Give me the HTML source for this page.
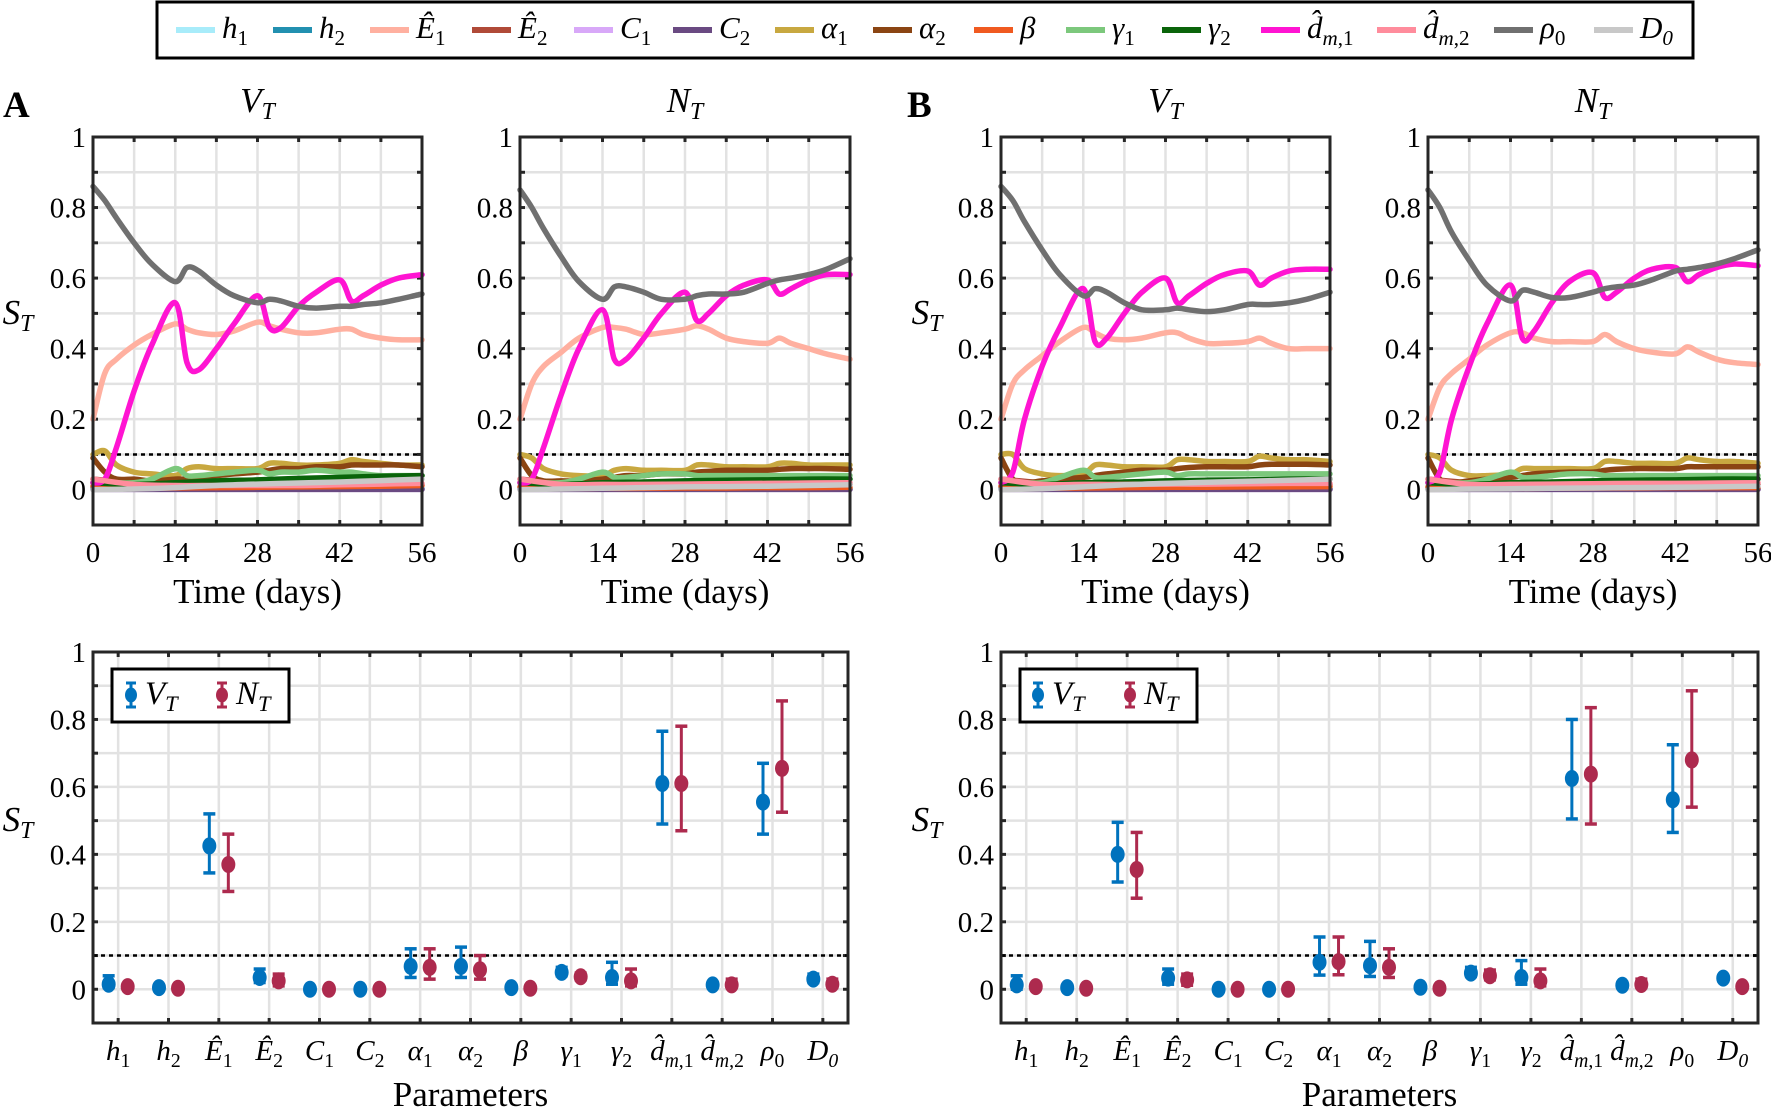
<!DOCTYPE html>
<html><head><meta charset="utf-8"><style>
html,body{margin:0;padding:0;background:#fff;}
svg{display:block;}
svg text{font-family:"Liberation Serif","Times New Roman",serif;}
</style></head><body>
<svg id="fig" xmlns="http://www.w3.org/2000/svg" width="1771" height="1116" viewBox="0 0 1771 1116" font-family="Liberation Serif, serif"></svg>
<script>
// ---------- DATA ----------
const tMain = [0,2,4,7,10,14,16,18,21,24,28,30,32,35,38,42,44,46,49,52,56];
const tMinor = [0,7,14,21,28,35,42,49,56];
const seriesNames = ['h1','h2','E1','E2','C1','C2','alpha1','alpha2','beta','gamma1','gamma2','dm1','dm2','rho0','D0'];
// A - V_T
const A_VT_rho0 = [0.86,0.82,0.77,0.70,0.64,0.59,0.63,0.62,0.58,0.55,0.53,0.54,0.535,0.52,0.515,0.52,0.52,0.525,0.53,0.54,0.555];
const A_VT_dm1 = [0.02,0.03,0.12,0.28,0.41,0.53,0.36,0.34,0.40,0.47,0.55,0.46,0.46,0.52,0.56,0.595,0.535,0.55,0.58,0.60,0.61];
const A_VT_E1 = [0.2,0.33,0.37,0.41,0.44,0.47,0.455,0.445,0.44,0.45,0.475,0.465,0.455,0.445,0.445,0.455,0.455,0.44,0.43,0.425,0.425];
const A_VT_alpha1 = [0.1,0.11,0.07,0.05,0.045,0.04,0.06,0.065,0.06,0.06,0.06,0.075,0.075,0.07,0.07,0.075,0.085,0.08,0.075,0.07,0.07];
const A_VT_alpha2 = [0.09,0.05,0.03,0.03,0.025,0.03,0.03,0.035,0.04,0.045,0.05,0.055,0.06,0.06,0.065,0.065,0.07,0.07,0.07,0.07,0.065];
const A_VT_gamma1 = [0.02,0.02,0.02,0.02,0.03,0.06,0.04,0.04,0.045,0.05,0.055,0.045,0.05,0.05,0.055,0.05,0.05,0.045,0.04,0.04,0.04];
const A_VT_minor = {h1:[0.01,0.005,0.003,0.003,0.003,0.003,0.003,0.003,0.003],h2:[0.005,0.004,0.003,0.003,0.003,0.003,0.003,0.003,0.003],E2:[0.03,0.02,0.015,0.015,0.015,0.015,0.015,0.015,0.015],C1:[0.001,0.001,0.001,0.001,0.001,0.001,0.001,0.001,0.001],C2:[0.001,0.001,0.001,0.001,0.001,0.001,0.001,0.001,0.001],beta:[0.01,0.005,0.005,0.006,0.007,0.008,0.009,0.01,0.012],gamma2:[0.02,0.015,0.02,0.025,0.028,0.032,0.035,0.038,0.04],dm2:[0.03,0.015,0.012,0.012,0.012,0.012,0.014,0.016,0.018],D0:[0,0.002,0.006,0.012,0.016,0.019,0.022,0.026,0.03]};
// A - N_T
const A_NT_rho0 = [0.85,0.80,0.74,0.66,0.59,0.54,0.575,0.575,0.56,0.54,0.54,0.55,0.555,0.555,0.56,0.585,0.595,0.6,0.61,0.625,0.655];
const A_NT_dm1 = [0.02,0.03,0.12,0.27,0.40,0.51,0.37,0.37,0.43,0.50,0.56,0.48,0.50,0.55,0.58,0.595,0.555,0.57,0.595,0.61,0.61];
const A_NT_E1 = [0.2,0.30,0.35,0.39,0.43,0.46,0.46,0.455,0.44,0.445,0.455,0.465,0.455,0.43,0.42,0.415,0.43,0.415,0.40,0.385,0.37];
const A_NT_alpha1 = [0.1,0.09,0.06,0.045,0.04,0.04,0.055,0.06,0.055,0.055,0.055,0.07,0.07,0.065,0.065,0.065,0.075,0.075,0.07,0.07,0.07];
const A_NT_alpha2 = [0.09,0.04,0.025,0.025,0.025,0.03,0.035,0.04,0.04,0.045,0.045,0.05,0.052,0.055,0.055,0.055,0.058,0.06,0.06,0.06,0.058];
const A_NT_gamma1 = [0.02,0.02,0.02,0.02,0.03,0.05,0.035,0.035,0.04,0.045,0.045,0.04,0.04,0.04,0.04,0.04,0.04,0.04,0.04,0.04,0.04];
const A_NT_minor = {h1:[0.01,0.004,0.003,0.003,0.003,0.003,0.003,0.003,0.003],h2:[0.005,0.003,0.003,0.003,0.003,0.003,0.003,0.003,0.003],E2:[0.03,0.02,0.015,0.015,0.015,0.015,0.015,0.015,0.015],C1:[0.001,0.001,0.001,0.001,0.001,0.001,0.001,0.001,0.001],C2:[0.001,0.001,0.001,0.001,0.001,0.001,0.001,0.001,0.001],beta:[0.008,0.004,0.004,0.004,0.005,0.005,0.006,0.006,0.007],gamma2:[0.02,0.015,0.02,0.022,0.025,0.027,0.028,0.03,0.03],dm2:[0.03,0.015,0.015,0.015,0.016,0.017,0.018,0.019,0.02],D0:[0,0.002,0.004,0.006,0.008,0.009,0.01,0.012,0.014]};
// B - V_T
const B_VT_rho0 = [0.86,0.82,0.76,0.68,0.61,0.55,0.57,0.56,0.53,0.51,0.51,0.515,0.51,0.505,0.51,0.525,0.525,0.525,0.53,0.54,0.56];
const B_VT_dm1 = [0.02,0.05,0.20,0.35,0.46,0.57,0.42,0.43,0.50,0.56,0.60,0.53,0.55,0.585,0.61,0.62,0.58,0.60,0.62,0.625,0.625];
const B_VT_E1 = [0.2,0.30,0.34,0.38,0.42,0.46,0.445,0.43,0.425,0.43,0.445,0.445,0.43,0.415,0.415,0.42,0.43,0.415,0.40,0.40,0.40];
const B_VT_alpha1 = [0.1,0.1,0.06,0.045,0.04,0.045,0.07,0.07,0.065,0.065,0.065,0.085,0.085,0.08,0.08,0.08,0.095,0.09,0.085,0.085,0.08];
const B_VT_alpha2 = [0.09,0.03,0.02,0.025,0.03,0.035,0.04,0.045,0.05,0.055,0.055,0.06,0.063,0.065,0.065,0.065,0.07,0.072,0.072,0.072,0.07];
const B_VT_gamma1 = [0.02,0.02,0.02,0.02,0.035,0.055,0.035,0.035,0.04,0.045,0.05,0.04,0.045,0.045,0.045,0.045,0.045,0.045,0.045,0.045,0.045];
const B_VT_minor = {h1:[0.01,0.005,0.003,0.003,0.003,0.003,0.003,0.003,0.003],h2:[0.005,0.004,0.003,0.003,0.003,0.003,0.003,0.003,0.003],E2:[0.03,0.02,0.015,0.015,0.015,0.015,0.015,0.015,0.015],C1:[0.001,0.001,0.001,0.001,0.001,0.001,0.001,0.001,0.001],C2:[0.001,0.001,0.001,0.001,0.001,0.001,0.001,0.001,0.001],beta:[0.01,0.005,0.005,0.006,0.007,0.007,0.008,0.008,0.009],gamma2:[0.02,0.015,0.02,0.022,0.025,0.027,0.028,0.03,0.03],dm2:[0.03,0.015,0.015,0.015,0.016,0.016,0.017,0.018,0.018],D0:[0,0.003,0.008,0.014,0.018,0.021,0.024,0.027,0.03]};
// B - N_T
const B_NT_rho0 = [0.85,0.80,0.73,0.65,0.58,0.535,0.565,0.56,0.545,0.545,0.56,0.57,0.575,0.58,0.595,0.62,0.625,0.63,0.64,0.655,0.68];
const B_NT_dm1 = [0.02,0.05,0.20,0.35,0.47,0.58,0.43,0.45,0.53,0.59,0.615,0.545,0.56,0.60,0.625,0.63,0.59,0.61,0.63,0.64,0.635];
const B_NT_E1 = [0.2,0.29,0.33,0.37,0.41,0.445,0.445,0.43,0.42,0.42,0.42,0.44,0.42,0.40,0.39,0.385,0.405,0.39,0.37,0.36,0.355];
const B_NT_alpha1 = [0.1,0.09,0.055,0.04,0.04,0.045,0.06,0.06,0.06,0.06,0.06,0.08,0.08,0.075,0.075,0.075,0.09,0.085,0.08,0.08,0.075];
const B_NT_alpha2 = [0.09,0.03,0.02,0.025,0.03,0.035,0.04,0.045,0.048,0.05,0.05,0.055,0.058,0.06,0.06,0.06,0.065,0.065,0.065,0.065,0.065];
const B_NT_gamma1 = [0.02,0.02,0.02,0.02,0.03,0.05,0.035,0.035,0.04,0.045,0.045,0.04,0.04,0.04,0.04,0.04,0.04,0.04,0.04,0.04,0.04];
const B_NT_minor = {h1:[0.01,0.004,0.003,0.003,0.003,0.003,0.003,0.003,0.003],h2:[0.005,0.003,0.003,0.003,0.003,0.003,0.003,0.003,0.003],E2:[0.03,0.02,0.015,0.015,0.015,0.015,0.015,0.015,0.015],C1:[0.001,0.001,0.001,0.001,0.001,0.001,0.001,0.001,0.001],C2:[0.001,0.001,0.001,0.001,0.001,0.001,0.001,0.001,0.001],beta:[0.008,0.004,0.004,0.004,0.005,0.005,0.006,0.006,0.006],gamma2:[0.02,0.015,0.02,0.022,0.025,0.027,0.028,0.03,0.03],dm2:[0.03,0.015,0.015,0.016,0.017,0.018,0.018,0.019,0.02],D0:[0,0.002,0.003,0.004,0.005,0.006,0.007,0.008,0.01]};
// Bottom error-bar data
const A_VT_mean = [0.015,0.005,0.425,0.035,0,0,0.068,0.068,0.005,0.05,0.035,0.61,0.013,0.555,0.03];
const A_VT_lo   = [0.005,0,0.345,0.02,0,0,0.035,0.035,0,0.04,0.015,0.49,0.005,0.46,0.02];
const A_VT_hi   = [0.04,0.01,0.52,0.06,0,0,0.12,0.125,0.01,0.065,0.08,0.765,0.02,0.67,0.045];
const A_NT_mean = [0.008,0.003,0.37,0.025,0,0,0.065,0.058,0.003,0.037,0.025,0.61,0.013,0.655,0.015];
const A_NT_lo   = [0,0,0.29,0.01,0,0,0.03,0.03,0,0.028,0.01,0.47,0.005,0.525,0.005];
const A_NT_hi   = [0.015,0.007,0.46,0.045,0,0,0.12,0.1,0.005,0.048,0.06,0.78,0.03,0.855,0.03];
const B_VT_mean = [0.013,0.005,0.40,0.033,0,0,0.08,0.07,0.006,0.048,0.035,0.625,0.012,0.562,0.033];
const B_VT_lo   = [0,0,0.318,0.015,0,0,0.042,0.038,0,0.038,0.015,0.505,0.005,0.465,0.025];
const B_VT_hi   = [0.04,0.012,0.495,0.06,0,0,0.155,0.142,0.01,0.065,0.085,0.8,0.02,0.725,0.04];
const B_NT_mean = [0.008,0.003,0.355,0.028,0,0,0.082,0.065,0.003,0.04,0.025,0.638,0.014,0.68,0.008];
const B_NT_lo   = [0,0,0.27,0.012,0,0,0.043,0.035,0,0.028,0.01,0.49,0.005,0.54,0];
const B_NT_hi   = [0.015,0.007,0.465,0.045,0,0,0.155,0.12,0.006,0.057,0.06,0.835,0.03,0.885,0.012];
const timeTicks = [0,14,28,42,56];
const yTicks = [0,0.2,0.4,0.6,0.8,1];
const yTickLabels = ['0','0.2','0.4','0.6','0.8','1'];
const threshold = 0.1;

// ---------- RENDER ----------
const NS='http://www.w3.org/2000/svg';
const svg=document.getElementById('fig');
function mk(tag,attrs,parent){const e=document.createElementNS(NS,tag);for(const k in attrs)e.setAttribute(k,attrs[k]);(parent||svg).appendChild(e);return e;}
const colors={h1:'#a8ecfa',h2:'#2290b0',E1:'#ffb0a0',E2:'#b04a38',C1:'#d8a8f8',C2:'#6a4a82',alpha1:'#c8a840',alpha2:'#8b4513',beta:'#f05a20',gamma1:'#7cc87c',gamma2:'#0a640a',dm1:'#ff14d2',dm2:'#ff8c9c',rho0:'#707070',D0:'#c8c8c8'};
const I=s=>'<tspan font-style="italic">'+s+'</tspan>';
const S=(s,it)=>'<tspan font-size="68%" dy="7"'+(it?' font-style="italic"':'')+'>'+s+'</tspan>';
const labelHTML={h1:I('h')+S('1'),h2:I('h')+S('2'),E1:I('Ê')+S('1'),E2:I('Ê')+S('2'),C1:I('C')+S('1'),C2:I('C')+S('2'),alpha1:I('α')+S('1'),alpha2:I('α')+S('2'),beta:I('β'),gamma1:I('γ')+S('1'),gamma2:I('γ')+S('2'),dm1:I('d̂')+'<tspan font-size="68%" dy="7"><tspan font-style="italic">m</tspan>,1</tspan>',dm2:I('d̂')+'<tspan font-size="68%" dy="7"><tspan font-style="italic">m</tspan>,2</tspan>',rho0:I('ρ')+S('0'),D0:I('D')+S('0',true)};
const VT=I('V')+S('T',true), NT=I('N')+S('T',true), ST=I('S')+S('T',true);

function txt(x,y,html,size,anchor,name,extra){
  const t=mk('text',Object.assign({x:x,y:y,'font-size':size,'text-anchor':anchor||'start',fill:'#000','font-family':'Liberation Serif, Times New Roman, serif'},extra||{}));
  t.innerHTML=html;
  
  
  return t;
}
function smooth(xs,ys){let d='M'+xs[0].toFixed(1)+','+ys[0].toFixed(1);const n=xs.length;
  for(let i=0;i<n-1;i++){const i0=Math.max(0,i-1),i3=Math.min(n-1,i+2);
    const c1x=xs[i]+(xs[i+1]-xs[i0])/6,c1y=ys[i]+(ys[i+1]-ys[i0])/6;
    const c2x=xs[i+1]-(xs[i3]-xs[i])/6,c2y=ys[i+1]-(ys[i3]-ys[i])/6;
    d+=' C'+c1x.toFixed(1)+','+c1y.toFixed(1)+' '+c2x.toFixed(1)+','+c2y.toFixed(1)+' '+xs[i+1].toFixed(1)+','+ys[i+1].toFixed(1);}
  return d;}

function axesFrame(g,x0,x1,yt,yb,vx,nm){
  const yv=v=>yt+(1-v)/1.1*(yb-yt);
  for(let k=-1;k<=10;k++){const y=yv(k/10);const l=mk('line',{x1:x0,x2:x1,y1:y,y2:y,stroke:'#e2e2e2','stroke-width':2.5},g);
    
    
    mk('line',{x1:x0,x2:x0+5,y1:y,y2:y,stroke:'#262626','stroke-width':3},g);mk('line',{x1:x1-5,x2:x1,y1:y,y2:y,stroke:'#262626','stroke-width':3},g);}
  vx.forEach(x=>{const l=mk('line',{x1:x,x2:x,y1:yt,y2:yb,stroke:'#e2e2e2','stroke-width':2.5},g);
    
    
    mk('line',{x1:x,x2:x,y1:yt,y2:yt+5,stroke:'#262626','stroke-width':3},g);mk('line',{x1:x,x2:x,y1:yb-5,y2:yb,stroke:'#262626','stroke-width':3},g);});
  yTicks.forEach((v,i)=>txt(x0-7,yv(v)+10,yTickLabels[i],29,'end',nm+'-ytick-label'));
  return yv;
}
function thresholdLine(g,x0,x1,yv,nm){const l=mk('line',{x1:x0,x2:x1,y1:yv(threshold),y2:yv(threshold),stroke:'#000','stroke-width':2.5,'stroke-dasharray':'4 4'},g);
  
  }
function border(g,x0,x1,yt,yb,nm){const r=mk('rect',{x:x0,y:yt,width:x1-x0,height:yb-yt,fill:'none',stroke:'#262626','stroke-width':3},g);
  
  }

function timePanel(nm,x0,x1,title,main,minor){
  const yt=137,yb=525;
  const g=mk('g',{});
  
  
  const xt=t=>x0+t/56*(x1-x0);
  const vx=[0,7,14,21,28,35,42,49,56].map(xt);
  const yv=axesFrame(g,x0,x1,yt,yb,vx,nm);
  timeTicks.forEach(t=>txt(xt(t),562,String(t),29,'middle',nm+'-xtick-label'));
  txt((x0+x1)/2,603,'Time (days)',35,'middle',nm+'-x-axis-title');
  txt((x0+x1)/2,112,title,35,'middle',nm+'-title');
  thresholdLine(g,x0,x1,yv,nm);
  seriesNames.forEach(s=>{
    let ts,vs;
    if(main[s]){ts=tMain;vs=main[s];}else{ts=tMinor;vs=minor[s];}
    const p=mk('path',{d:smooth(ts.map(xt),vs.map(yv)),fill:'none',stroke:colors[s],'stroke-width':5.5,'stroke-linejoin':'round','stroke-linecap':'round'},g);
    
    
  });
  border(g,x0,x1,yt,yb,nm);
}
function barPanel(nm,x0,x1,vtm,vtl,vth,ntm,ntl,nth,leg){
  const yt=652,yb=1023;
  const g=mk('g',{});
  
  
  const sp=(x1-x0)/15, xc=i=>x0+(i+0.5)*sp;
  const yv=axesFrame(g,x0,x1,yt,yb,seriesNames.map((s,i)=>xc(i)),nm);
  seriesNames.forEach((s,i)=>txt(xc(i),1060,labelHTML[s],29,'middle',nm+'-xtick-'+s));
  txt((x0+x1)/2,1106,'Parameters',35,'middle',nm+'-x-axis-title');
  thresholdLine(g,x0,x1,yv,nm);
  const draw=(m,lo,hi,col,off,tag)=>m.forEach((v,i)=>{
    const x=xc(i)+off;
    const gg=mk('g',{},g);
    
    
    mk('line',{x1:x,x2:x,y1:yv(lo[i]),y2:yv(hi[i]),stroke:col,'stroke-width':3},gg);
    mk('line',{x1:x-6,x2:x+6,y1:yv(lo[i]),y2:yv(lo[i]),stroke:col,'stroke-width':3.5},gg);
    mk('line',{x1:x-6,x2:x+6,y1:yv(hi[i]),y2:yv(hi[i]),stroke:col,'stroke-width':3.5},gg);
    mk('ellipse',{cx:x,cy:yv(v),rx:7,ry:8.5,fill:col},gg);
  });
  draw(vtm,vtl,vth,'#0072bd',-9.5,'vt');
  draw(ntm,ntl,nth,'#ad2a4e',9.5,'nt');
  border(g,x0,x1,yt,yb,nm);
  const lg=mk('g',{});
  
  
  mk('rect',{x:leg[0],y:669,width:leg[1]-leg[0],height:53,fill:'#fff',stroke:'#000','stroke-width':3},lg);
  [[leg[2],'#0072bd',VT,'vt'],[leg[3],'#ad2a4e',NT,'nt']].forEach(([x,c,h,tg])=>{
    mk('line',{x1:x,x2:x,y1:683,y2:707,stroke:c,'stroke-width':3},lg);
    mk('line',{x1:x-5,x2:x+5,y1:683,y2:683,stroke:c,'stroke-width':3},lg);
    mk('line',{x1:x-5,x2:x+5,y1:707,y2:707,stroke:c,'stroke-width':3},lg);
    mk('ellipse',{cx:x,cy:695,rx:6,ry:7.5,fill:c},lg);
    txt(x+14,704,h,33,'start',nm+'-legend-label-'+tg);
  });
}

const lgBox=mk('rect',{x:157,y:2,width:1536,height:56,fill:'#fff',stroke:'#000','stroke-width':3});


const legX=[176,273,370,472,574,673,775,873,974,1066,1162,1261,1377,1494,1594];
seriesNames.forEach((s,i)=>{
  const l=mk('line',{x1:legX[i],x2:legX[i]+39,y1:30,y2:30,stroke:colors[s],'stroke-width':6});
  
  
  txt(legX[i]+46,38,labelHTML[s],31,'start','legend-entry-'+s);
});
txt(3,117,'A',37,'start','panel-label-a',{'font-weight':'bold'});
txt(907,117,'B',37,'start','panel-label-b',{'font-weight':'bold'});
txt(18,324,ST,35,'middle','a-top-y-axis-title');
txt(18,831,ST,35,'middle','a-bottom-y-axis-title');
txt(927,324,ST,35,'middle','b-top-y-axis-title');
txt(927,831,ST,35,'middle','b-bottom-y-axis-title');

timePanel('a-vt-timecourse',93,422,VT,{E1:A_VT_E1,alpha1:A_VT_alpha1,alpha2:A_VT_alpha2,gamma1:A_VT_gamma1,dm1:A_VT_dm1,rho0:A_VT_rho0},A_VT_minor);
timePanel('a-nt-timecourse',520,850,NT,{E1:A_NT_E1,alpha1:A_NT_alpha1,alpha2:A_NT_alpha2,gamma1:A_NT_gamma1,dm1:A_NT_dm1,rho0:A_NT_rho0},A_NT_minor);
timePanel('b-vt-timecourse',1001,1330,VT,{E1:B_VT_E1,alpha1:B_VT_alpha1,alpha2:B_VT_alpha2,gamma1:B_VT_gamma1,dm1:B_VT_dm1,rho0:B_VT_rho0},B_VT_minor);
timePanel('b-nt-timecourse',1428,1758,NT,{E1:B_NT_E1,alpha1:B_NT_alpha1,alpha2:B_NT_alpha2,gamma1:B_NT_gamma1,dm1:B_NT_dm1,rho0:B_NT_rho0},B_NT_minor);
barPanel('a-parameter-sensitivity',93,848,A_VT_mean,A_VT_lo,A_VT_hi,A_NT_mean,A_NT_lo,A_NT_hi,[112,289,131,222]);
barPanel('b-parameter-sensitivity',1001,1758,B_VT_mean,B_VT_lo,B_VT_hi,B_NT_mean,B_NT_lo,B_NT_hi,[1020,1197,1038,1130]);
</script>
</body></html>
